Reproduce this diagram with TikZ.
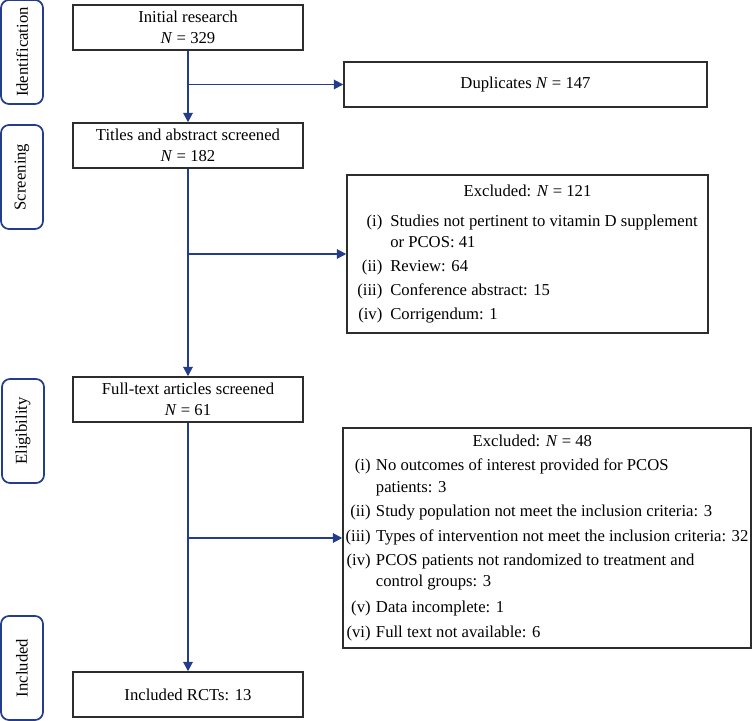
\documentclass[tikz,border=0pt]{standalone}
\usepackage{fontspec}
\setmainfont{Liberation Serif}
\usetikzlibrary{arrows.meta}

\definecolor{flowblue}{RGB}{35,60,140}
\definecolor{boxgray}{RGB}{45,45,45}

\begin{document}
\begin{tikzpicture}[x=0.75pt, y=-0.75pt,
        font=\fontsize{12.5}{16}\selectfont,
        stage/.style={draw=flowblue, line width=1.3pt, rounded corners=6pt, rotate=90,
            minimum width=78pt, minimum height=31.5pt, inner sep=0pt},
        mainbox/.style={draw=boxgray, line width=1.1pt, minimum width=172.5pt,
            minimum height=33.75pt, align=center, inner sep=2pt},
        exbox/.style={draw=boxgray, line width=1.1pt, inner sep=0pt},
        flow/.style={flowblue, line width=1.4pt, -{Triangle[length=7pt,width=7pt]}}]
        \useasboundingbox (0,0) rectangle (752,720);

        % stages on the left
        \node[stage] (idlab)  at (22,52)  {Identification};
        \node[stage] (scrlab) at (22,177) {Screening};
        \node[stage] (elilab) at (23,431) {Eligibility};
        \node[stage] (inclab) at (22,668) {Included};

        % main column
        \node[mainbox] (init)  at (188,27.5)  {Initial research\\\textit{N} = 329};
        \node[mainbox] (title) at (188,145.5) {Titles and abstract screened\\\textit{N} = 182};
        \node[mainbox] (full)  at (188,399.5) {Full-text articles screened\\\textit{N} = 61};
        \node[mainbox] (rcts)  at (188,694.5) {Included RCTs: 13};

        % excluded records
        \node[exbox, minimum width=272.25pt, minimum height=33.75pt] (dup) at (525.5,84.5)
            {Duplicates \textit{N} = 147};
        \node[exbox, minimum width=270.75pt, minimum height=118.5pt] (ex1) at (527.5,254) {%
            \begin{tabular}{@{}r@{\hspace{6pt}}l@{}}
                \multicolumn{2}{c}{Excluded: \textit{N} = 121}\\[6pt]
                (i) & Studies not pertinent to vitamin D supplement\\
                    & or PCOS: 41\\[2pt]
                (ii) & Review: 64\\[2pt]
                (iii) & Conference abstract: 15\\[2pt]
                (iv) & Corrigendum: 1
            \end{tabular}};
        \node[exbox, minimum width=306pt, minimum height=165pt] (ex2) at (547,538) {%
            \begin{tabular}{@{}r@{\hspace{4pt}}l@{}}
                \multicolumn{2}{c}{Excluded: \textit{N} = 48\hspace*{22pt}}\\[2pt]
                (i) & No outcomes of interest provided for PCOS\\
                    & patients: 3\\[2pt]
                (ii) & Study population not meet the inclusion criteria: 3\\[3pt]
                (iii) & Types of intervention not meet the inclusion criteria: 32\\[2pt]
                (iv) & PCOS patients not randomized to treatment and\\
                     & control groups: 3\\[3pt]
                (v) & Data incomplete: 1\\[3pt]
                (vi) & Full text not available: 6
            \end{tabular}};

        % connectors
        \draw[flow] (init) -- (title);
        \draw[flow] (init.south |- dup.west) -- (dup.west);
        \draw[flow] (title) -- (full);
        \draw[flow] (title.south |- ex1.west) -- (ex1.west);
        \draw[flow] (full) -- (rcts);
        \draw[flow] (full.south |- ex2.west) -- (ex2.west);
    \end{tikzpicture}
\end{document}
